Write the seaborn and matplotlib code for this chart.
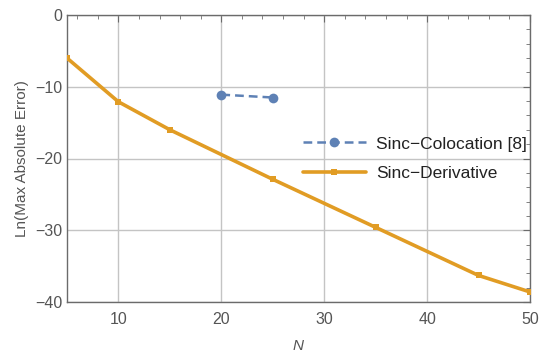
import matplotlib
matplotlib.use("Agg")
import matplotlib.pyplot as plt
import seaborn as sns
import pandas as pd
from matplotlib.ticker import MultipleLocator

# Data
colocation_n = [20, 25]
colocation_err = [-11.1, -11.5]
derivative_n = [5, 10, 15, 25, 35, 45, 50]
derivative_err = [-6.0, -12.1, -16.0, -22.9, -29.6, -36.3, -38.6]
label_colocation = "Sinc\u2212Colocation [8]"
label_derivative = "Sinc\u2212Derivative"

blue = "#5E81B5"
orange = "#E19C24"
gray = "#6b6b6b"

sns.set_style("white")
plt.rcParams["font.family"] = ["Liberation Sans", "DejaVu Sans"]

df_c = pd.DataFrame({"N": colocation_n, "err": colocation_err})
df_d = pd.DataFrame({"N": derivative_n, "err": derivative_err})

fig = plt.figure(figsize=(5.5, 3.57), dpi=100)
ax = fig.add_axes([67/550, 1-302/357, (530-67)/550, (302-15)/357])

sns.lineplot(data=df_c, x="N", y="err", ax=ax, color=blue, linestyle=(0, (3.5, 2)),
             linewidth=1.8, marker="o", markersize=7, markeredgewidth=0,
             label=label_colocation, zorder=3)
sns.lineplot(data=df_d, x="N", y="err", ax=ax, color=orange, linewidth=2.6,
             marker="s", markersize=5, markeredgewidth=0,
             label=label_derivative, zorder=3)

ax.set_xlim(5, 50)
ax.set_ylim(-40, 0)
ax.xaxis.set_major_locator(MultipleLocator(10))
ax.xaxis.set_minor_locator(MultipleLocator(2))
ax.yaxis.set_major_locator(MultipleLocator(10))
ax.yaxis.set_minor_locator(MultipleLocator(2))
ax.grid(True, which="major", color="#c4c4c4", linewidth=1.0, zorder=0)
ax.set_axisbelow(True)

ax.tick_params(which="both", direction="in", top=True, right=True,
               colors=gray, labelcolor="#555555", labelsize=11.5)
ax.tick_params(which="major", length=5, width=0.8)
ax.tick_params(which="minor", length=3, width=0.6)
ax.tick_params(axis="x", pad=7)
ax.tick_params(top=True, right=True, labeltop=False, labelright=False)
for s in ax.spines.values():
    s.set_color(gray)
    s.set_linewidth(1.0)

ax.set_xlabel("N", fontstyle="italic", color="#555555", fontsize=11, labelpad=9)
ax.set_ylabel("Ln(Max Absolute Error)", color="#555555", fontsize=11, labelpad=4)

leg = ax.legend(loc="center left", bbox_to_anchor=(0.51, 0.50), frameon=False,
                fontsize=12.5, handlelength=3.6, handletextpad=0.6,
                labelspacing=0.8, borderaxespad=0, borderpad=0)
for t in leg.get_texts():
    t.set_color("#222222")

fig.savefig("out.png", dpi=100)
